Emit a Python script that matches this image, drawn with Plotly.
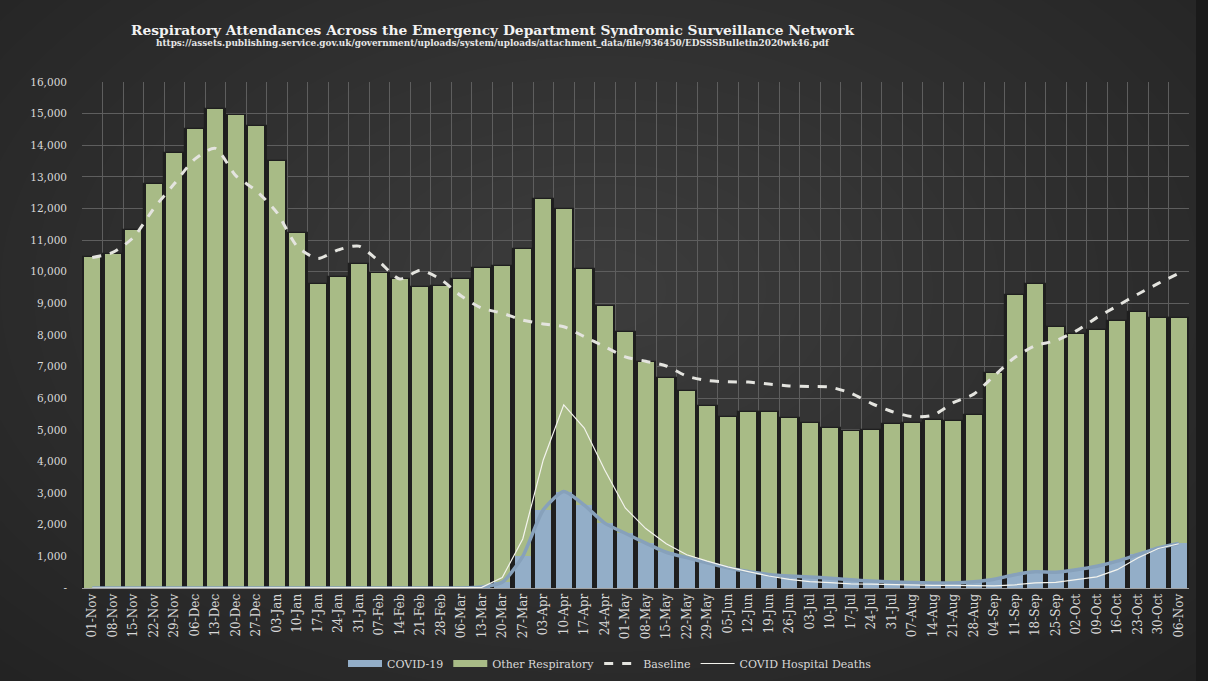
import plotly.graph_objects as go

weeks = ["01-Nov", "08-Nov", "15-Nov", "22-Nov", "29-Nov", "06-Dec", "13-Dec", "20-Dec", "27-Dec",
         "03-Jan", "10-Jan", "17-Jan", "24-Jan", "31-Jan", "07-Feb", "14-Feb", "21-Feb", "28-Feb",
         "06-Mar", "13-Mar", "20-Mar", "27-Mar", "03-Apr", "10-Apr", "17-Apr", "24-Apr",
         "01-May", "08-May", "15-May", "22-May", "29-May", "05-Jun", "12-Jun", "19-Jun", "26-Jun",
         "03-Jul", "10-Jul", "17-Jul", "24-Jul", "31-Jul", "07-Aug", "14-Aug", "21-Aug", "28-Aug",
         "04-Sep", "11-Sep", "18-Sep", "25-Sep", "02-Oct", "09-Oct", "16-Oct", "23-Oct", "30-Oct",
         "06-Nov"]

covid = [0, 0, 0, 0, 0, 0, 0, 0, 0,
         0, 0, 0, 0, 0, 0, 0, 0, 0,
         0, 30, 180, 1000, 2470, 3050, 2620, 2050,
         1730, 1420, 1130, 960, 800, 640, 520, 430, 380,
         350, 310, 260, 220, 190, 170, 160, 160, 200,
         280, 420, 510, 500, 580, 690, 850, 1060, 1270,
         1410]

other_resp = [10470, 10560, 11330, 12790, 13770, 14510, 15150, 14970, 14620,
              13510, 11240, 9610, 9820, 10260, 9970, 9760, 9530, 9550,
              9770, 10090, 10000, 9730, 9830, 8920, 7460, 6870,
              6380, 5740, 5510, 5270, 4960, 4760, 5060, 5150, 4990,
              4860, 4760, 4710, 4790, 5000, 5040, 5150, 5120, 5280,
              6530, 8850, 9090, 7760, 7450, 7470, 7590, 7670, 7280,
              7120]

baseline = [10450, 10610, 11080, 12000, 12780, 13560, 13900, 13040, 12560,
            11880, 10800, 10420, 10690, 10810, 10320, 9770, 10040, 9760,
            9230, 8850, 8690, 8470, 8350, 8260, 7950, 7630,
            7310, 7170, 7020, 6700, 6560, 6520, 6510, 6450, 6390,
            6370, 6350, 6160, 5840, 5580, 5420, 5460, 5860, 6130,
            6710, 7290, 7660, 7820, 8130, 8550, 8920, 9290, 9630,
            9950]

hospital_deaths = [0, 0, 0, 0, 0, 0, 0, 0, 0,
                   0, 0, 0, 0, 0, 0, 0, 0, 0,
                   0, 20, 330, 1550, 4050, 5790, 5060, 3730,
                   2530, 1880, 1400, 1050, 850, 670, 520, 380, 270,
                   200, 170, 130, 120, 100, 90, 80, 80, 80,
                   70, 100, 160, 180, 260, 350, 580, 950, 1250,
                   1400]

y_ticks = [0, 1000, 2000, 3000, 4000, 5000, 6000, 7000, 8000, 9000, 10000,
           11000, 12000, 13000, 14000, 15000, 16000]
y_tick_text = ["-", "1,000", "2,000", "3,000", "4,000", "5,000", "6,000", "7,000", "8,000",
               "9,000", "10,000", "11,000", "12,000", "13,000", "14,000", "15,000", "16,000"]

TITLE = "Respiratory Attendances Across the Emergency Department Syndromic Surveillance Network"
SUBTITLE = ("https://assets.publishing.service.gov.uk/government/uploads/system/uploads/"
            "attachment_data/file/936450/EDSSSBulletin2020wk46.pdf")

FONT = "DejaVu Serif"
W, H = 1208, 681
L, R, T, B = 82, 1189, 82, 588

BLUE = "#93aec8"
GREEN = "#a8bb86"
SHADOW = "#1f1f1f"


def px(x):
    return (x - L) / (R - L)


def py(y):
    return (B - y) / (B - T)


totals = [c + o for c, o in zip(covid, other_resp)]

fig = go.Figure()

# dark "shadow" behind the columns (fills gaps between bars)
fig.add_trace(go.Bar(x=weeks, y=totals, base=0, width=1.0, marker_color=SHADOW,
                     marker_line=dict(color=SHADOW, width=1.2),
                     showlegend=False, hoverinfo="skip"))
fig.add_trace(go.Bar(x=weeks, y=covid, base=0, width=0.8, name="COVID-19",
                     marker_color=BLUE, marker_line_width=0, showlegend=False))
fig.add_trace(go.Bar(x=weeks, y=other_resp, base=covid, width=0.8, name="Other Respiratory",
                     marker_color=GREEN, marker_line_width=0, showlegend=False))
fig.add_trace(go.Scatter(x=weeks, y=covid, mode="lines", showlegend=False, hoverinfo="skip",
                         line=dict(color="#87a1bb", width=3.5, shape="spline", smoothing=0.6)))
# legend swatches (wide rectangles, as in the original legend)
fig.add_trace(go.Scatter(x=[None], y=[None], mode="lines", name="COVID-19",
                         line=dict(color=BLUE, width=7)))
fig.add_trace(go.Scatter(x=[None], y=[None], mode="lines", name="Other Respiratory",
                         line=dict(color=GREEN, width=7)))
fig.add_trace(go.Scatter(x=weeks, y=baseline, mode="lines", name="Baseline",
                         line=dict(color="#e4e4df", width=3, dash="dash", shape="spline",
                                   smoothing=0.7)))
fig.add_trace(go.Scatter(x=weeks, y=hospital_deaths, mode="lines", name="COVID Hospital Deaths",
                         line=dict(color="#f4f4ee", width=1.2)))

# radial-ish background glow
shapes = []
N = 30
cx, cy = 600, 290
for i in range(N):
    f = 1 - i / N
    rx, ry = 1000 * f, 640 * f
    shapes.append(dict(type="circle", xref="paper", yref="paper", layer="below",
                       x0=px(cx - rx), x1=px(cx + rx), y0=py(cy + ry), y1=py(cy - ry),
                       fillcolor="rgba(255,255,255,0.0095)", line_width=0))
shapes.append(dict(type="rect", xref="paper", yref="paper", layer="below",
                   x0=px(1196), x1=px(1210), y0=py(683), y1=py(-2),
                   fillcolor="#1a1a1a", line_width=0))

fig.update_layout(
    width=W, height=H,
    margin=dict(l=L, r=W - R, t=T, b=H - B, autoexpand=False),
    paper_bgcolor="#1e1e1e",
    plot_bgcolor="rgba(0,0,0,0)",
    barmode="overlay",
    bargap=0,
    font=dict(family=FONT, color="#d9d9d9", size=11),
    shapes=shapes,
    showlegend=True,
    legend=dict(orientation="h", x=px(610), xanchor="center", y=py(649), yanchor="top",
                font=dict(family=FONT, size=11, color="#d9d9d9"), bgcolor="rgba(0,0,0,0)",
                itemwidth=34, traceorder="normal"),
    annotations=[
        dict(text="<b>" + TITLE + "</b>", xref="paper", yref="paper", x=px(492), y=py(30),
             xanchor="center", yanchor="middle", showarrow=False,
             font=dict(family=FONT, size=13.8, color="#f2f2f2")),
        dict(text="<b>" + SUBTITLE + "</b>", xref="paper", yref="paper", x=px(493), y=py(43),
             xanchor="center", yanchor="middle", showarrow=False,
             font=dict(family=FONT, size=8.9, color="#e6e6e6")),
    ],
)

fig.update_xaxes(type="category", tickangle=-90, tickson="boundaries", showgrid=True,
                 gridcolor="#5e5e5e", gridwidth=1, showline=True, linecolor="#a0a0a0",
                 linewidth=1, ticks="", automargin=False,
                 tickfont=dict(family=FONT, size=12, color="#d9d9d9"),
                 range=[-0.5, len(weeks) - 0.5])
fig.update_yaxes(range=[0, 16000], tickvals=y_ticks, ticktext=y_tick_text, showgrid=True,
                 gridcolor="#5e5e5e", gridwidth=1, zeroline=False, ticks="",
                 ticklabelstandoff=14, automargin=False,
                 tickfont=dict(family=FONT, size=10.5, color="#d9d9d9"))

fig.write_html("out.html")
